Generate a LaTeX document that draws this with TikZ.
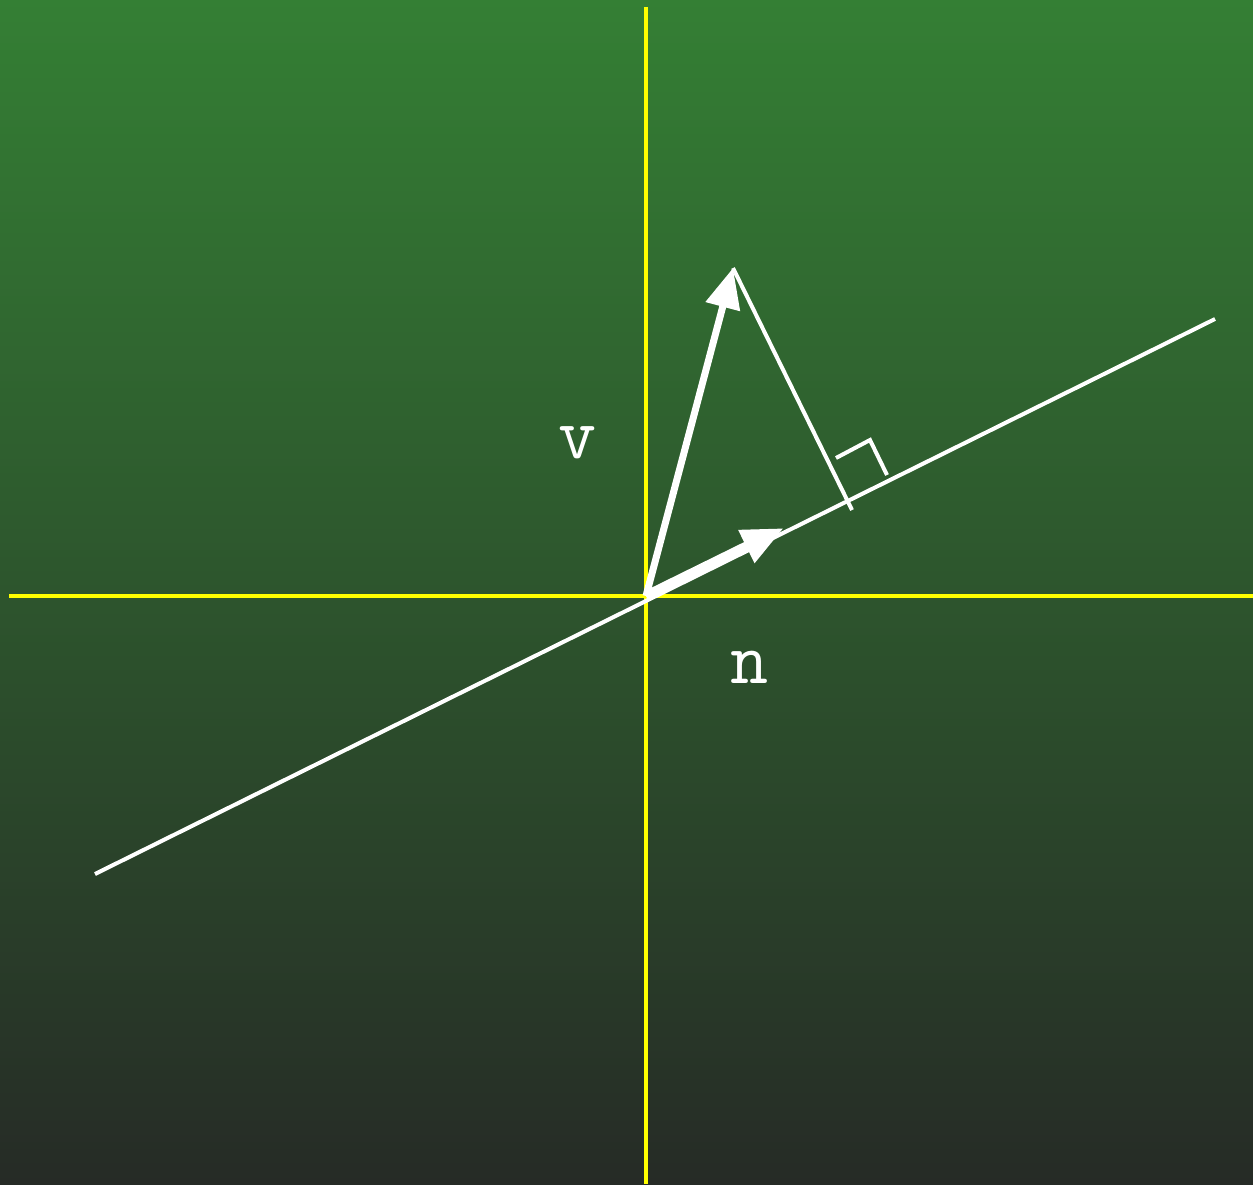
\documentclass[tikz,border=0pt]{standalone}
\usetikzlibrary{arrows.meta,calc}
\definecolor{bgtop}{RGB}{52,127,52}
\definecolor{bgbot}{RGB}{38,43,38}
\definecolor{axisyellow}{RGB}{255,255,0}
\tikzset{
  axisline/.style={draw=axisyellow,line width=4pt},
  whiteline/.style={draw=white,line width=4pt},
  vecv/.style={draw=white,line width=7pt,-{Triangle[length=40pt,width=34pt]}},
  vecn/.style={draw=white,line width=10pt,-{Triangle[length=42pt,width=34pt]}},
  lbl/.style={text=white,font=\ttfamily\fontsize{74}{74}\selectfont,inner sep=0pt},
}
\begin{document}
\begin{tikzpicture}[x=1pt,y=-1pt]
\shade[top color=bgtop,bottom color=bgbot] (0,0) rectangle (1253,1184);
\useasboundingbox (0,0) rectangle (1253,1184);
\coordinate (O) at (646,596);
\coordinate (ytop) at (646,7);
\coordinate (ybot) at (646,1184);
\coordinate (xl) at (9,596);
\coordinate (xr) at (1253,596);
\coordinate (la) at (95,874);
\coordinate (lb) at (1215,319);
\coordinate (V) at (733,268);
\coordinate (N) at (784,528);
\coordinate (F) at (852,510);
\coordinate (ra1) at (836,458);
\coordinate (ra2) at (870,440);
\coordinate (ra3) at (887,475);
\draw[axisline] (ytop) -- (ybot);
\draw[axisline] (xl) -- (xr);
\draw[whiteline] (la) -- (lb);
\draw[whiteline] (V) -- (F);
\draw[whiteline] (ra1) -- (ra2) -- (ra3);
\draw[vecv] (O) -- (V);
\draw[vecn] (O) -- (N);
\node[lbl] (vlabel) at (578,443) {v};
\node[lbl] (nlabel) at (750,667) {n};
\end{tikzpicture}
\end{document}
